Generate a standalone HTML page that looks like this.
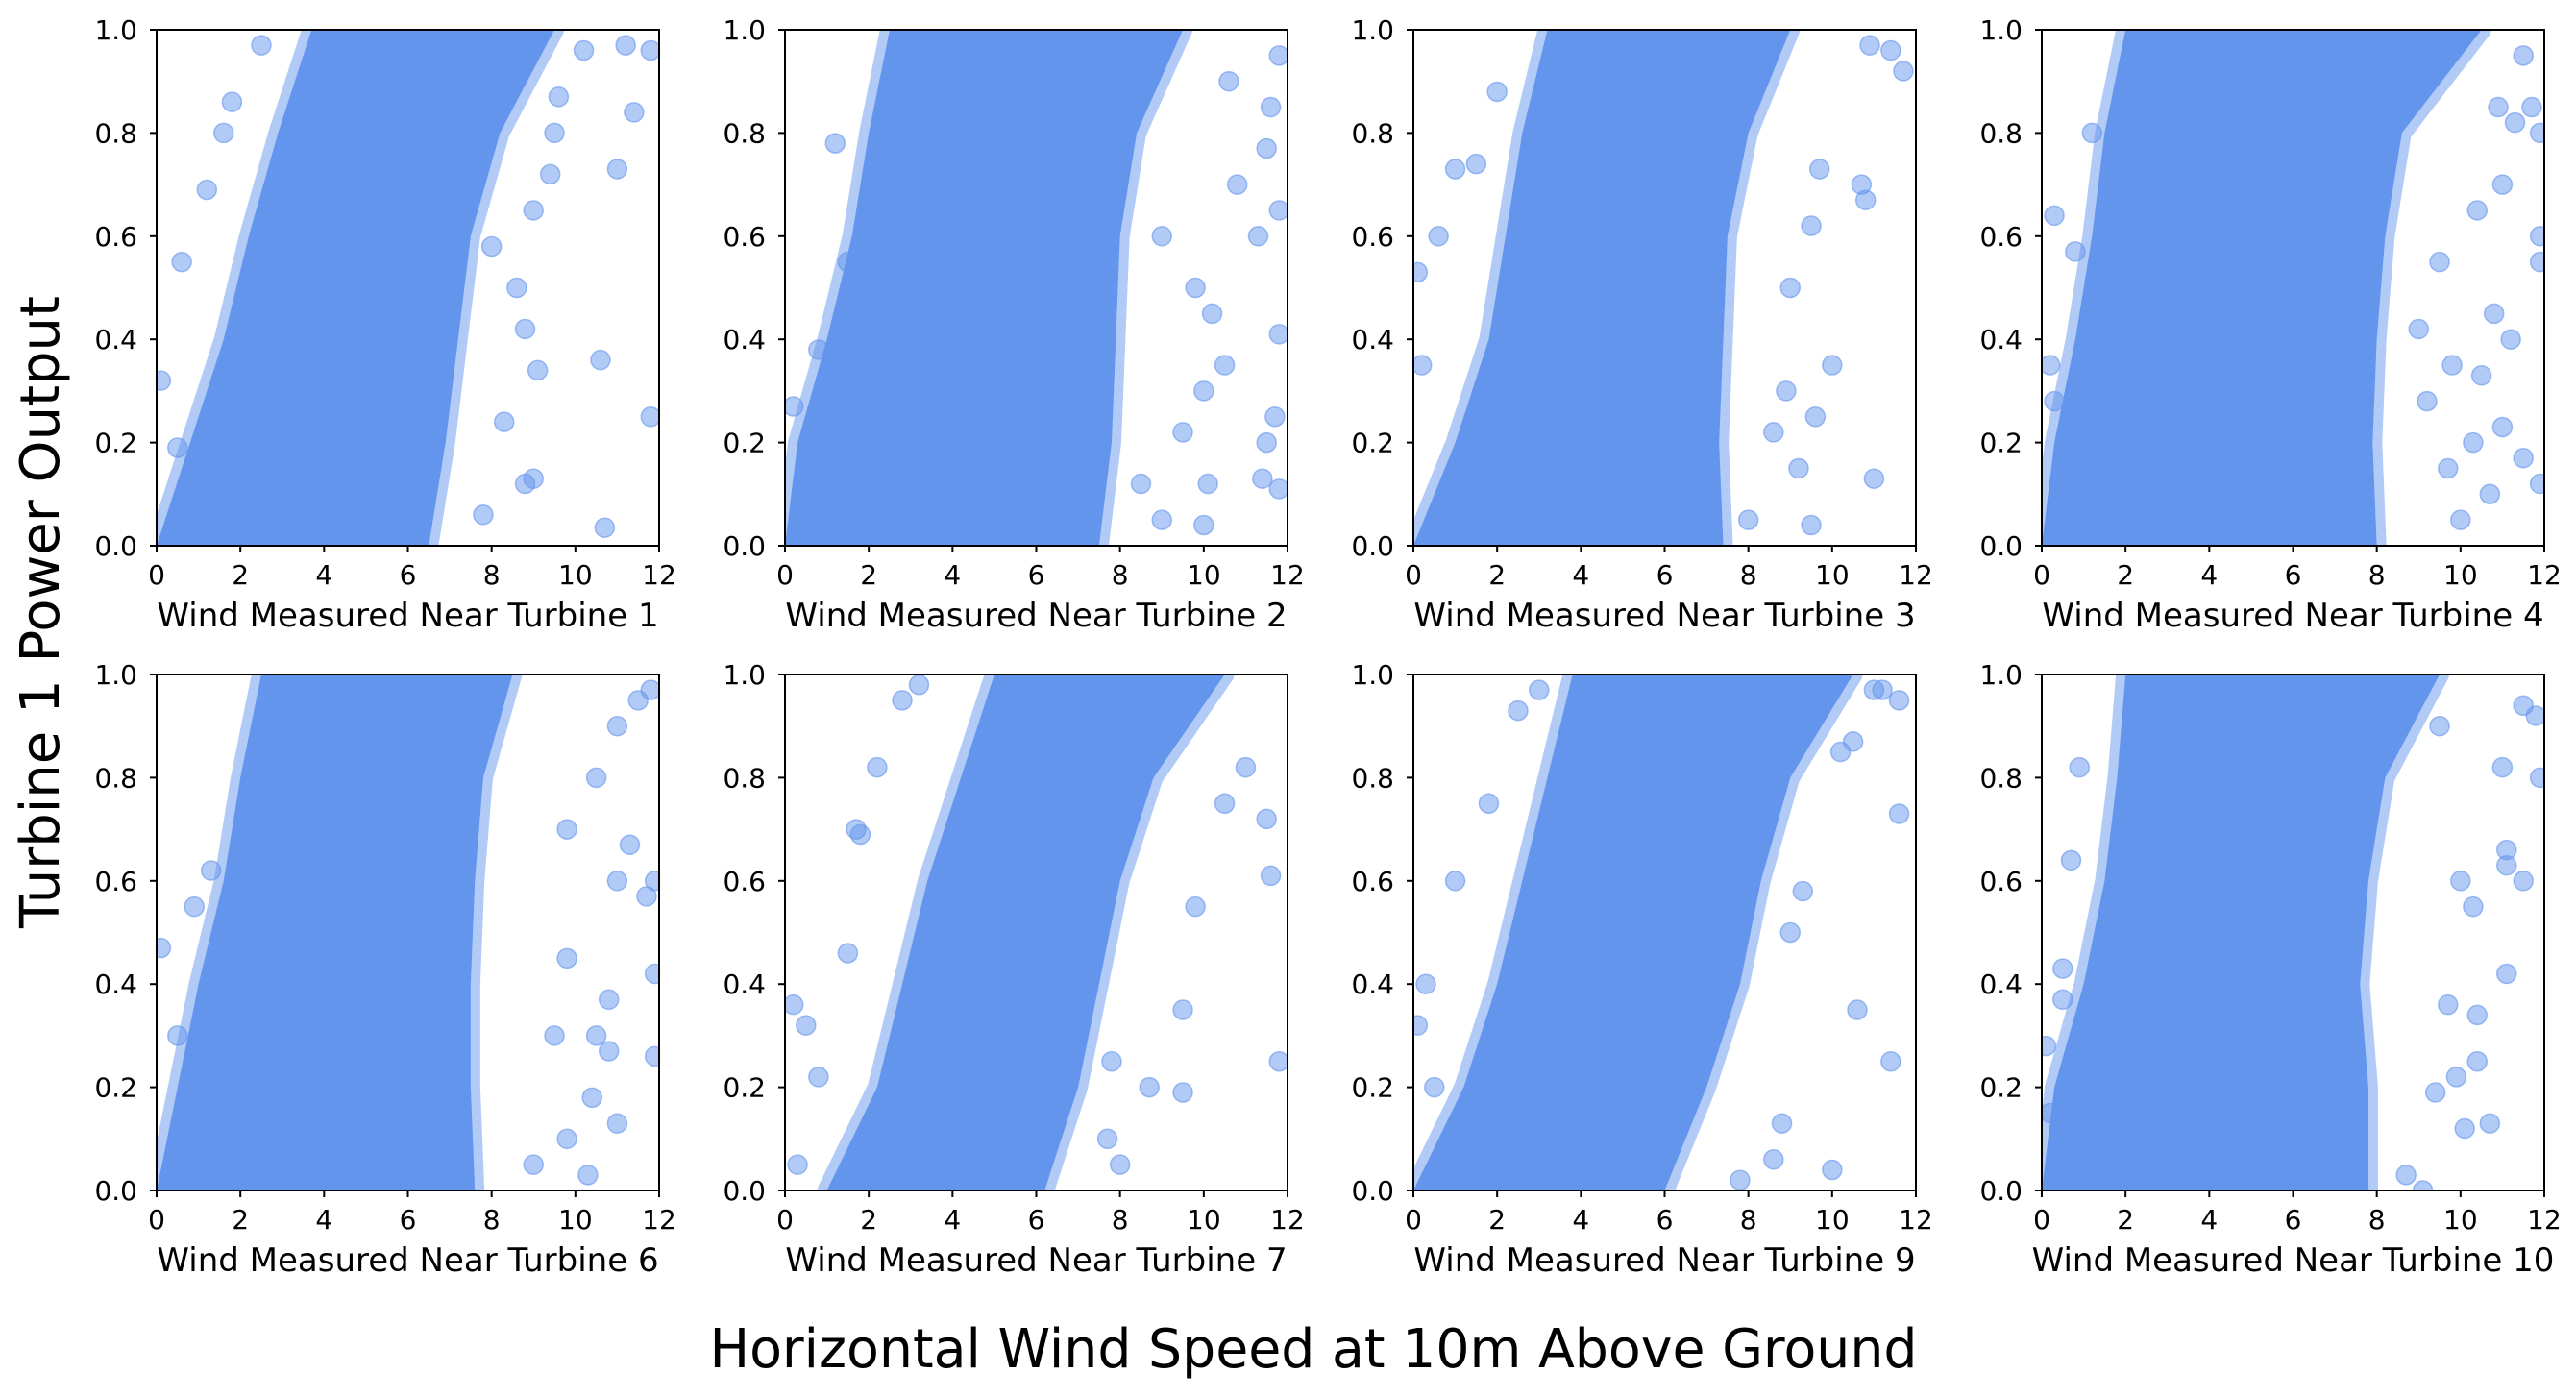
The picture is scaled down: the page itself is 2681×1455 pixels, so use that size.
<!DOCTYPE html>
<html><head><meta charset="utf-8"><style>
html,body{margin:0;padding:0;background:#fff;}
svg{display:block;font-family:"DejaVu Sans","Liberation Sans",sans-serif;}
</style></head>
<body>
<svg id="fig" width="2681" height="1455" viewBox="0 0 2681 1455" xmlns="http://www.w3.org/2000/svg">
<rect width="2681" height="1455" fill="#fff"/>
<text x="1367" y="1423" font-size="56" text-anchor="middle" textLength="1257" lengthAdjust="spacingAndGlyphs">Horizontal Wind Speed at 10m Above Ground</text>
<text transform="translate(61,637) rotate(-90)" font-size="56" text-anchor="middle" textLength="658" lengthAdjust="spacingAndGlyphs">Turbine 1 Power Output</text>
</svg>
<script>
const panelLabels = ["1","2","3","4","6","7","9","10"];
const xTicks = [0,2,4,6,8,10,12];
const yTicks = [0,0.2,0.4,0.6,0.8,1.0];
const yTickLabels = ["0.0","0.2","0.4","0.6","0.8","1.0"];
const bandY = [0,0.2,0.4,0.6,0.8,1.0];
const bandLeft = [
 [0,0.8,1.6,2.2,2.9,3.7],
 [0,0.3,1.0,1.6,2.0,2.5],
 [0,1.0,1.8,2.2,2.6,3.2],
 [0,0.3,0.8,1.2,1.5,2.0],
 [0,0.5,1.0,1.6,2.0,2.5],
 [1.0,2.2,2.8,3.4,4.2,5.0],
 [0,1.2,2.0,2.6,3.2,3.8],
 [0,0.3,1.0,1.5,1.8,2.0]
];
const bandRight = [
 [6.5,6.9,7.2,7.5,8.2,9.5],
 [7.5,7.8,7.9,8.0,8.4,9.5],
 [7.4,7.3,7.4,7.5,8.0,9.0],
 [8.0,7.9,8.0,8.2,8.6,10.5],
 [7.6,7.5,7.5,7.6,7.8,8.5],
 [6.2,7.0,7.5,8.0,8.8,10.5],
 [6.0,7.0,7.8,8.3,9.0,10.5],
 [7.8,7.8,7.6,7.8,8.2,9.5]
];
const outliers1 = [[11.8,0.25],[10.7,0.035],[10.6,0.36],[8.8,0.12],[9.0,0.13],[7.8,0.06],[9.1,0.34],[8.8,0.42],[11.4,0.84],[11.0,0.73],[11.8,0.96],[11.2,0.97],[10.2,0.96],[9.6,0.87],[9.5,0.8],[9.0,0.65],[8.6,0.5],[8.3,0.24],[0.6,0.55],[0.1,0.32],[0.5,0.19],[1.2,0.69],[1.8,0.86],[1.6,0.8],[2.5,0.97],[9.4,0.72],[8.0,0.58]];
const outliers2 = [[11.8,0.11],[11.7,0.25],[11.8,0.41],[11.5,0.2],[11.4,0.13],[10.1,0.12],[10.0,0.04],[11.8,0.65],[11.5,0.77],[11.6,0.85],[11.8,0.95],[11.3,0.6],[10.5,0.35],[9.8,0.5],[10.0,0.3],[9.5,0.22],[9.0,0.6],[10.8,0.7],[9.0,0.05],[8.5,0.12],[0.2,0.27],[0.8,0.38],[1.2,0.78],[1.5,0.55],[10.2,0.45],[10.6,0.9]];
const outliers3 = [[11.0,0.13],[9.5,0.04],[10.0,0.35],[9.6,0.25],[8.6,0.22],[11.7,0.92],[11.4,0.96],[10.9,0.97],[10.8,0.67],[10.7,0.7],[9.7,0.73],[9.0,0.5],[9.5,0.62],[0.1,0.53],[0.2,0.35],[1.0,0.73],[0.6,0.6],[1.5,0.74],[2.0,0.88],[8.9,0.3],[9.2,0.15],[8.0,0.05]];
const outliers4 = [[11.9,0.55],[11.9,0.6],[11.9,0.12],[11.2,0.4],[11.5,0.17],[11.0,0.23],[10.7,0.1],[10.5,0.33],[10.8,0.45],[10.3,0.2],[10.0,0.05],[9.5,0.55],[9.0,0.42],[10.4,0.65],[11.0,0.7],[11.3,0.82],[11.7,0.85],[11.9,0.8],[11.5,0.95],[9.8,0.35],[9.2,0.28],[9.7,0.15],[0.2,0.35],[0.3,0.28],[0.8,0.57],[0.3,0.64],[1.2,0.8],[10.9,0.85]];
const outliers6 = [[11.9,0.42],[11.9,0.26],[11.9,0.6],[11.7,0.57],[11.3,0.67],[11.0,0.6],[10.8,0.37],[10.5,0.3],[11.0,0.13],[10.4,0.18],[10.3,0.03],[10.8,0.27],[9.8,0.45],[9.5,0.3],[9.8,0.1],[11.8,0.97],[11.5,0.95],[11.0,0.9],[10.5,0.8],[9.8,0.7],[0.1,0.47],[0.5,0.3],[0.9,0.55],[1.3,0.62],[9.0,0.05]];
const outliers7 = [[11.8,0.25],[11.6,0.61],[11.5,0.72],[11.0,0.82],[10.5,0.75],[9.5,0.35],[9.5,0.19],[8.7,0.2],[7.7,0.1],[8.0,0.05],[7.8,0.25],[0.2,0.36],[0.5,0.32],[0.8,0.22],[1.5,0.46],[1.8,0.69],[2.2,0.82],[2.8,0.95],[3.2,0.98],[1.7,0.7],[9.8,0.55],[0.3,0.05]];
const outliers9 = [[11.4,0.25],[11.6,0.73],[11.6,0.95],[11.2,0.97],[11.0,0.97],[10.6,0.35],[10.0,0.04],[9.3,0.58],[9.0,0.5],[8.8,0.13],[8.6,0.06],[7.8,0.02],[10.5,0.87],[10.2,0.85],[0.3,0.4],[0.1,0.32],[1.0,0.6],[1.8,0.75],[2.5,0.93],[3.0,0.97],[0.5,0.2]];
const outliers10 = [[11.8,0.92],[11.9,0.8],[11.5,0.94],[11.0,0.82],[11.1,0.66],[11.1,0.63],[11.5,0.6],[11.1,0.42],[10.7,0.13],[10.1,0.12],[10.4,0.25],[9.9,0.22],[9.4,0.19],[10.3,0.55],[10.0,0.6],[9.7,0.36],[10.4,0.34],[9.5,0.9],[0.1,0.28],[0.2,0.15],[0.5,0.37],[0.5,0.43],[0.7,0.64],[0.9,0.82],[8.7,0.03],[9.1,0.0]];
const outlierSets = [outliers1,outliers2,outliers3,outliers4,outliers6,outliers7,outliers9,outliers10];

const NS = "http://www.w3.org/2000/svg";
const fig = document.getElementById('fig');
const PW = 523, PH = 537, COLOR = "#6495ed";
function mk(tag, attrs, parent){const e=document.createElementNS(NS,tag);for(const k in attrs)e.setAttribute(k,attrs[k]);parent.appendChild(e);return e;}

panelLabels.forEach((lab,i)=>{
  const col=i%4,row=Math.floor(i/4);
  const L=163+654*col, T=row===0?31:702;
  const sx=v=>L+v/12*PW, sy=v=>T+PH-v*PH;
  const g=mk('g',{},fig);
  
  
  const cid='clip'+i;
  const cp=mk('clipPath',{id:cid},g);
  mk('rect',{x:L,y:T,width:PW,height:PH},cp);
  const pg=mk('g',{'clip-path':'url(#'+cid+')'},g);
  let pts=[];
  bandY.forEach((y,k)=>pts.push(sx(bandLeft[i][k])+','+sy(y)));
  for(let k=bandY.length-1;k>=0;k--)pts.push(sx(bandRight[i][k])+','+sy(bandY[k]));
  const band=mk('polygon',{points:pts.join(' '),fill:COLOR,stroke:COLOR,'stroke-opacity':0.5,'stroke-width':20,'stroke-linejoin':'round'},pg);
  
  
  outlierSets[i].forEach(p=>{
    const c=mk('circle',{cx:sx(p[0]),cy:sy(p[1]),r:10,fill:COLOR,'fill-opacity':0.5,stroke:COLOR,'stroke-opacity':0.6,'stroke-width':1.5},pg);
    
    
  });
  mk('rect',{x:L,y:T,width:PW,height:PH,fill:'none',stroke:'#000','stroke-width':2},g);
  xTicks.forEach(t=>{
    mk('line',{x1:sx(t),x2:sx(t),y1:T+PH,y2:T+PH+7,stroke:'#000','stroke-width':2},g);
    const tx=mk('text',{x:sx(t),y:T+PH+40,'font-size':28,'text-anchor':'middle'},g);
    tx.textContent=t;
    
    
  });
  yTicks.forEach((t,k)=>{
    mk('line',{x1:L-7,x2:L,y1:sy(t),y2:sy(t),stroke:'#000','stroke-width':2},g);
    const ty=mk('text',{x:L-20,y:sy(t)+10,'font-size':28,'text-anchor':'end'},g);
    ty.textContent=yTickLabels[k];
    
    
  });
  const xl=mk('text',{x:L+PW/2,y:T+PH+84,'font-size':34,'text-anchor':'middle'},g);
  xl.textContent='Wind Measured Near Turbine '+lab;
  
  
});
</script>
</body></html>
